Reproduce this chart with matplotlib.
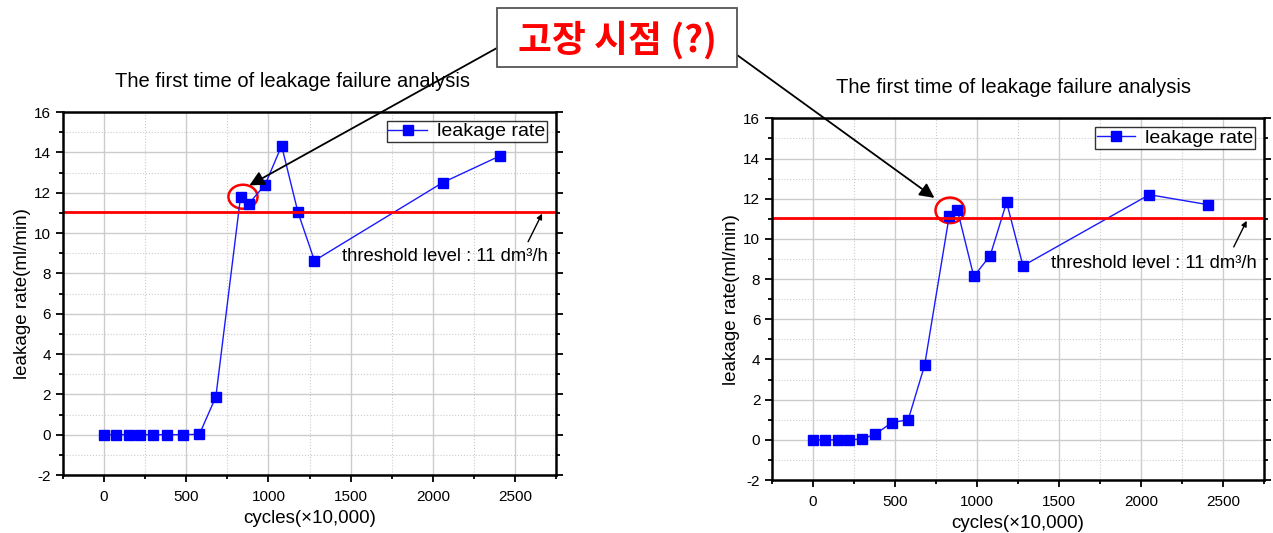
import matplotlib
matplotlib.use('Agg')
import matplotlib.pyplot as plt
from matplotlib.patches import Ellipse, Rectangle
from matplotlib.ticker import MultipleLocator

plt.rcParams['font.family'] = ['Liberation Sans', 'DejaVu Sans']
plt.rcParams['axes.unicode_minus'] = False

# data
cycles_1 = [0, 70, 150, 220, 300, 380, 480, 580, 680, 830, 880, 980, 1080, 1180, 1280, 2060, 2410]
leak_1 = [0, 0, 0, 0, 0, 0, 0, 0.02, 1.88, 11.78, 11.45, 12.4, 14.33, 11.02, 8.63, 12.5, 13.83]

cycles_2 = [0, 70, 150, 220, 300, 380, 480, 580, 680, 830, 880, 980, 1080, 1180, 1280, 2050, 2410]
leak_2 = [0, 0, 0, 0, 0.05, 0.28, 0.86, 1.0, 3.71, 11.14, 11.44, 8.13, 9.17, 11.82, 8.66, 12.2, 11.7]

threshold = 11.05
title = 'The first time of leakage failure analysis'
thr_text = 'threshold level : 11 dm³/h'

fig = plt.figure(figsize=(12.73, 5.33), dpi=100)
ax1 = fig.add_axes([0.0495, 0.1088, 0.3873, 0.681])
ax2 = fig.add_axes([0.6065, 0.0994, 0.3865, 0.6786])


def style_axes(ax, title_x):
    ax.set_xlim(-250, 2750)
    ax.set_ylim(-2, 16)
    ax.xaxis.set_major_locator(MultipleLocator(500))
    ax.xaxis.set_minor_locator(MultipleLocator(250))
    ax.yaxis.set_major_locator(MultipleLocator(2))
    ax.yaxis.set_minor_locator(MultipleLocator(1))
    ax.grid(which='major', color='#cccccc', lw=1.0)
    ax.grid(which='minor', color='#cccccc', lw=0.8, ls=':')
    ax.set_axisbelow(True)
    ax.tick_params(which='both', direction='out', right=True, top=False,
                   labelsize=11, width=1.3)
    ax.tick_params(which='major', length=5)
    ax.tick_params(which='minor', length=3)
    ax.tick_params(axis='x', which='major', pad=6)
    for s in ax.spines.values():
        s.set_linewidth(1.8)
    ax.set_xlabel('cycles(×10,000)', fontsize=13.5, labelpad=4)
    ax.set_ylabel('leakage rate(ml/min)', fontsize=13.5, labelpad=2)
    ax.set_title(title, fontsize=14.5, pad=18, x=title_x)


for ax, x, y, tx in [(ax1, cycles_1, leak_1, 0.465), (ax2, cycles_2, leak_2, 0.49)]:
    style_axes(ax, tx)
    ax.plot(x, y, color='#1a1aff', lw=1.0, marker='s', ms=6.5,
            mfc='#0000ff', mec='#0000ff', label='leakage rate')
    ax.axhline(threshold, color='#ff0000', lw=2)
    leg = ax.legend(loc='upper right', fontsize=14, frameon=True, fancybox=False,
                    handlelength=2.0, borderpad=0.1, borderaxespad=0.45,
                    handletextpad=0.5)
    leg.get_frame().set_edgecolor('black')
    leg.get_frame().set_linewidth(1.0)

# threshold labels with small arrows
ax1.text(1450, 8.83, thr_text, fontsize=13.3, va='center', ha='left')
ax1.annotate('', xy=(2665, 10.96), xytext=(2580, 9.57),
             arrowprops=dict(arrowstyle='-|>', color='black', lw=1, mutation_scale=8,
                             shrinkA=0, shrinkB=0))
ax2.text(1452, 8.8, thr_text, fontsize=13.3, va='center', ha='left')
ax2.annotate('', xy=(2644, 10.9), xytext=(2565, 9.6),
             arrowprops=dict(arrowstyle='-|>', color='black', lw=1, mutation_scale=8,
                             shrinkA=0, shrinkB=0))

# red circles around the first crossing
ax1.add_patch(Ellipse((845, 11.8), 177, 1.19, fill=False, ec='#ff0000', lw=1.8))
ax2.add_patch(Ellipse((835, 11.42), 177, 1.27, fill=False, ec='#ff0000', lw=1.8))

# korean callout box with arrows
fig.add_artist(Rectangle((0.3904, 0.8743), 0.1885, 0.1107, transform=fig.transFigure,
                         fc='white', ec='#555555', lw=1.3, zorder=5))
fig.text(0.4847, 0.925, '고장 시점 (?)', fontsize=26.5, color='#ff0000', fontweight='bold',
         family=['Noto Sans CJK KR', 'DejaVu Sans'], ha='center', va='center', zorder=6)
ax1.annotate('', xy=(884, 12.36), xycoords='data',
             xytext=(0.3904, 0.91), textcoords='figure fraction',
             arrowprops=dict(arrowstyle='-|>', color='black', lw=1.3, mutation_scale=22,
                             shrinkA=0, shrinkB=0))
ax2.annotate('', xy=(740, 12.04), xycoords='data',
             xytext=(0.579, 0.8968), textcoords='figure fraction',
             arrowprops=dict(arrowstyle='-|>', color='black', lw=1.3, mutation_scale=22,
                             shrinkA=0, shrinkB=0))

fig.savefig('out.png', dpi=100)
